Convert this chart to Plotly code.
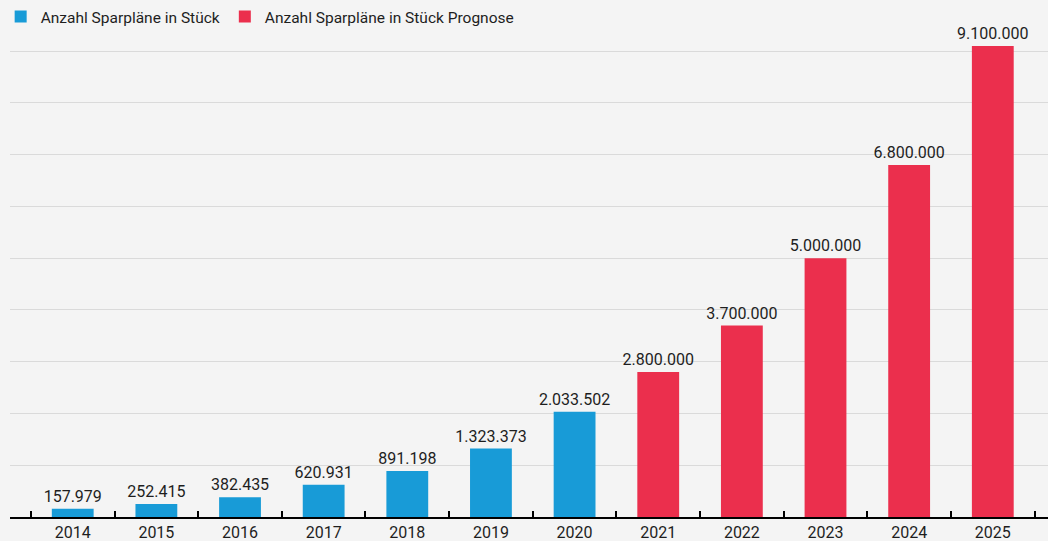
import plotly.graph_objects as go

years_actual = ["2014", "2015", "2016", "2017", "2018", "2019", "2020"]
values_actual = [157979, 252415, 382435, 620931, 891198, 1323373, 2033502]
years_forecast = ["2021", "2022", "2023", "2024", "2025"]
values_forecast = [2800000, 3700000, 5000000, 6800000, 9100000]
all_years = years_actual + years_forecast

name_actual = "Anzahl Sparpläne in Stück"
name_forecast = "Anzahl Sparpläne in Stück Prognose"

BLUE = "#189bd7"
RED = "#eb2f4d"
TXT = "#1e1e1e"

fig = go.Figure()
fig.add_trace(go.Bar(
    x=years_actual, y=values_actual, name=name_actual,
    marker=dict(color=BLUE, line=dict(width=0)),
    width=0.5, texttemplate="%{y:,.0f}", textposition="outside",
    constraintext="none",
    textfont=dict(size=16, color=TXT, family="Roboto"), cliponaxis=False,
))
fig.add_trace(go.Bar(
    x=years_forecast, y=values_forecast, name=name_forecast,
    marker=dict(color=RED, line=dict(width=0)),
    width=0.5, texttemplate="%{y:,.0f}", textposition="outside",
    constraintext="none",
    textfont=dict(size=16, color=TXT, family="Roboto"), cliponaxis=False,
))

fig.update_layout(
    width=1048, height=541,
    margin=dict(l=10, r=0, t=0, b=24),
    paper_bgcolor="#f4f4f4", plot_bgcolor="#f4f4f4",
    separators=",.",
    barmode="overlay",
    font=dict(family="Roboto", size=16, color=TXT),
    showlegend=True,
    legend=dict(orientation="h", x=-0.009, y=1, xanchor="left", yanchor="top",
                bgcolor="rgba(0,0,0,0)", font=dict(size=15.5, color=TXT),
                itemclick=False, traceorder="normal"),
    xaxis=dict(type="category", categoryorder="array", categoryarray=all_years,
               range=[-0.75, 11.66], showgrid=False, showline=True,
               linecolor="#000000", linewidth=2, ticks="inside", tickson="boundaries",
               ticklen=6, tickwidth=2, tickcolor="#000000",
               tickfont=dict(size=16, color=TXT)),
    yaxis=dict(range=[0, 9990000], dtick=1000000, showticklabels=False,
               showgrid=True, gridcolor="#dadada", gridwidth=1,
               zeroline=False, showline=False, ticks=""),
)

fig.write_html("out.html", config={"displayModeBar": False},
               post_script="document.body.style.margin='0';document.body.style.background='#f4f4f4';")
